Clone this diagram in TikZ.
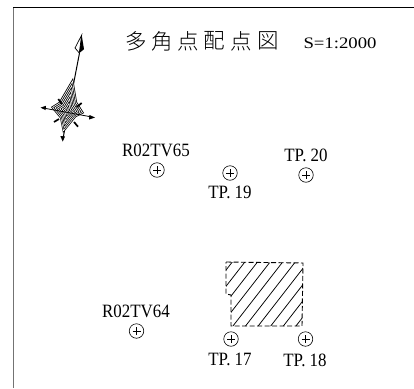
\documentclass[tikz,border=0pt]{standalone}
\usepackage{fontspec}
\setmainfont{Liberation Serif}[FakeStretch=.9]
\newfontfamily\cjk{Noto Sans CJK JP Light}
\newfontfamily\scl{Liberation Serif}[FakeStretch=1.17]
\tikzset{
 x=1pt,y=-1pt,
 lbl/.style={font=\fontsize{18.8}{18.8}\selectfont,inner sep=0pt,text=black},
 stn/.style={circle,draw,line width=0.6pt,minimum size=14.5pt,inner sep=0pt,
   path picture={\draw[line width=.5pt] (path picture bounding box.center)+(-4pt,0)--+(4pt,0)
   (path picture bounding box.center)+(0,-4pt)--+(0,4pt);}},
 ttl/.style={font=\cjk\fontsize{21.5}{21.5}\selectfont,inner sep=0pt,text=black},
 hat/.style={line width=.75pt},
 edge/.style={line width=.9pt,dash pattern=on 5pt off 2.5pt}
}
\newcommand{\starpath}{(5,-32)--(9,-8)--(16,3)--(8,7)--(-5,23)--(-8,8)--(-17,-3)--(-9,-8)--cycle}
\begin{document}
\begin{tikzpicture}
\useasboundingbox (0,0) rectangle (414,388);
\fill[white] (0,0) rectangle (414,388);
\draw[black!55,line width=.8pt] (13.5,7.5)--(13.5,388);
\draw[black,line width=.9pt] (13,7.5)--(414,7.5);
% title
\node[ttl] (t1) at (136,41) {多};
\node[ttl] (t2) at (162,41) {角};
\node[ttl] (t3) at (188,41) {点};
\node[ttl] (t4) at (214,41) {配};
\node[ttl] (t5) at (241,41) {点};
\node[ttl] (t6) at (268,41) {図};
\node[font=\scl\fontsize{16}{16}\selectfont,inner sep=0pt,text=black] (sc) at (340,43.5) {S=1:2000};
% stations
\node[stn] (r65) at (157,170) {};
\node[lbl] (r65l) at (156,150) {R02TV65};
\node[stn] (p19) at (230,173) {};
\node[lbl] (p19l) at (230,192.5) {TP. 19};
\node[stn] (p20) at (306,175) {};
\node[lbl] (p20l) at (306,155) {TP. 20};
\node[stn] (r64) at (136.5,331) {};
\node[lbl] (r64l) at (136,311) {R02TV64};
\node[stn] (p17) at (231,339) {};
\node[lbl] (p17l) at (230,359.5) {TP. 17};
\node[stn] (p18) at (305.5,339) {};
\node[lbl] (p18l) at (305,360) {TP. 18};
% hatched area
\begin{scope}
\clip (226,262)--(303,263)--(302,326)--(231,326)--(231,295)--(226,294)--cycle;
\foreach \k in {-6,...,5}{
 \draw[hat] ({245.3+12.6*\k},326.3)--({245.3+12.6*\k+54.4},256.3);
}
\end{scope}
\draw[edge] (226,262)--(303,263)--(302,326)--(231,326)--(231,295)--(226,294)--cycle;
% north arrow
\draw[line width=1pt] (79.5,53)--(62.7,140);
\draw[line width=.7pt,fill=white] (81.7,35)--(75,48)--(79.3,53)--cycle;
\fill (81.7,35)--(84,49.3)--(79.3,53)--cycle;
\begin{scope}[shift={(68,110)}]
\foreach \s in {1,.86,.72,.58,.44,.30,.16}{
 \fill[black,scale=\s] \starpath;
 \fill[white,scale=\s-.07] \starpath;
}
\fill[black,scale=.04] \starpath;
\end{scope}
\draw[line width=.8pt] (42,107.8)--(92,117);
\fill (40.5,107.6)--(46,105.8)--(45.5,110)--cycle;
\fill (95,117.5)--(89.5,115)--(89,119.5)--cycle;
\fill (62.7,141.5)--(60.3,136)--(65,136.5)--cycle;
\draw[line width=1.7pt] (61.7,104)--(58.3,99);
\draw[line width=1.7pt] (76.7,107)--(81.7,103);
\draw[line width=1.7pt] (59,119)--(54,122);
\draw[line width=1.7pt] (74,122)--(78,126.7);
\end{tikzpicture}
\end{document}
